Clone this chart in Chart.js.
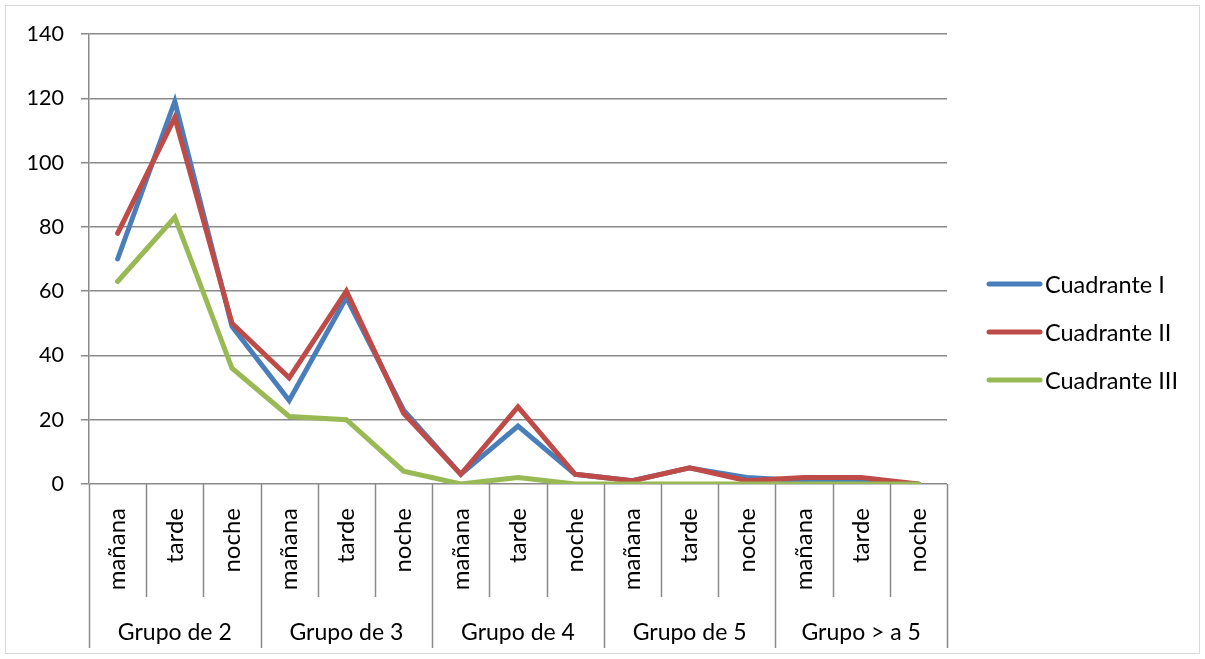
<!DOCTYPE html>
<html>
<head>
<meta charset="utf-8">
<script src="https://cdn.jsdelivr.net/npm/chart.js@4.4.1/dist/chart.umd.min.js"></script>
<style>
  html, body { margin: 0; padding: 0; background: #fff; }
  #wrap { width: 1205px; height: 659px; position: relative; }
</style>
</head>
<body>
<div id="wrap"><canvas id="c" width="1205" height="659"></canvas></div>
<script>
const categories = ['mañana','tarde','noche','mañana','tarde','noche','mañana','tarde','noche','mañana','tarde','noche','mañana','tarde','noche'];
const groups = ['Grupo de 2','Grupo de 3','Grupo de 4','Grupo de 5','Grupo > a 5'];
const seriesNames = ['Cuadrante I','Cuadrante II','Cuadrante III'];
const cuadranteI   = [70,119,49, 26,58,23, 3,18,3, 1,5,2, 1,1,0];
const cuadranteII  = [78,114,50, 33,60,22, 3,24,3, 1,5,1, 2,2,0];
const cuadranteIII = [63,83,36, 21,20,4, 0,2,0, 0,0,0, 0,0,0];
const yTicks = [0,20,40,60,80,100,120,140];
const colors = ['#4A7EBB','#BE4B48','#98B954'];

const FONT = 'Lato, "Open Sans", sans-serif';
const GRID = '#8a8a8a';

const extrasPlugin = {
  id: 'extras',
  beforeDraw(chart) {
    const ctx = chart.ctx;
    ctx.save();
    ctx.strokeStyle = '#d9d9d9';
    ctx.lineWidth = 1;
    ctx.strokeRect(5.5, 5.5, 1194, 648);
    ctx.restore();
  },
  afterDraw(chart) {
    const ctx = chart.ctx;
    const x = chart.scales.x;
    const n = categories.length;
    const w = (x.right - x.left) / n;
    const top = chart.chartArea.bottom;
    ctx.save();
    ctx.strokeStyle = GRID;
    ctx.lineWidth = 1.5;
    for (let i = 0; i <= n; i++) {
      const px = Math.round(x.left + i * w) + 0.5;
      const bottom = (i % 3 === 0) ? 648 : 597;
      ctx.beginPath();
      ctx.moveTo(px, top);
      ctx.lineTo(px, bottom);
      ctx.stroke();
    }
    ctx.fillStyle = '#000';
    ctx.font = '23px ' + FONT;
    ctx.textAlign = 'center';
    ctx.textBaseline = 'middle';
    groups.forEach((g, gi) => {
      const cx = x.left + (gi * 3 + 1.5) * w;
      ctx.fillText(g, cx, 633);
    });
    // legend
    const ly = [284, 332, 380];
    seriesNames.forEach((name, i) => {
      ctx.strokeStyle = colors[i];
      ctx.lineWidth = 5;
      ctx.lineCap = 'round';
      ctx.beginPath();
      ctx.moveTo(989, ly[i]);
      ctx.lineTo(1040, ly[i]);
      ctx.stroke();
      ctx.fillStyle = '#000';
      ctx.textAlign = 'left';
      ctx.textBaseline = 'middle';
      ctx.font = '23.5px ' + FONT;
      ctx.fillText(name, 1045, ly[i] + 1);
    });
    ctx.restore();
  }
};

const seriesData = [cuadranteI, cuadranteII, cuadranteIII];
new Chart(document.getElementById('c'), {
  type: 'line',
  data: {
    labels: categories,
    datasets: seriesData.map((d, i) => ({
      label: seriesNames[i],
      data: d,
      order: 2 - i,
      borderColor: colors[i],
      backgroundColor: colors[i],
      borderWidth: 5,
      pointRadius: 0,
      pointHoverRadius: 0,
      tension: 0,
      borderCapStyle: 'round',
      fill: false
    }))
  },
  options: {
    responsive: false,
    animation: false,
    devicePixelRatio: 1,
    layout: { padding: { left: 0, top: 34, right: 258, bottom: 0 } },
    plugins: { legend: { display: false }, tooltip: { enabled: false } },
    scales: {
      x: {
        type: 'category',
        offset: true,
        grid: { display: false, drawTicks: false },
        border: { display: false },
        ticks: {
          autoSkip: false,
          minRotation: 90,
          maxRotation: 90,
          padding: 24,
          color: '#000',
          font: { family: FONT, size: 24 }
        },
        afterFit(scale) { scale.height = 175; }
      },
      y: {
        min: 0,
        max: 140,
        afterBuildTicks(scale) { scale.ticks = yTicks.map(v => ({ value: v })); },
        grid: { color: GRID, lineWidth: 1.5, tickLength: 8, tickColor: GRID },
        border: { display: true, color: GRID, width: 1.5 },
        ticks: {
          padding: 17,
          color: '#000',
          font: { family: FONT, size: 21.5 }
        },
        afterFit(scale) { scale.width = 89; }
      }
    }
  },
  plugins: [extrasPlugin]
});
</script>
</body>
</html>
